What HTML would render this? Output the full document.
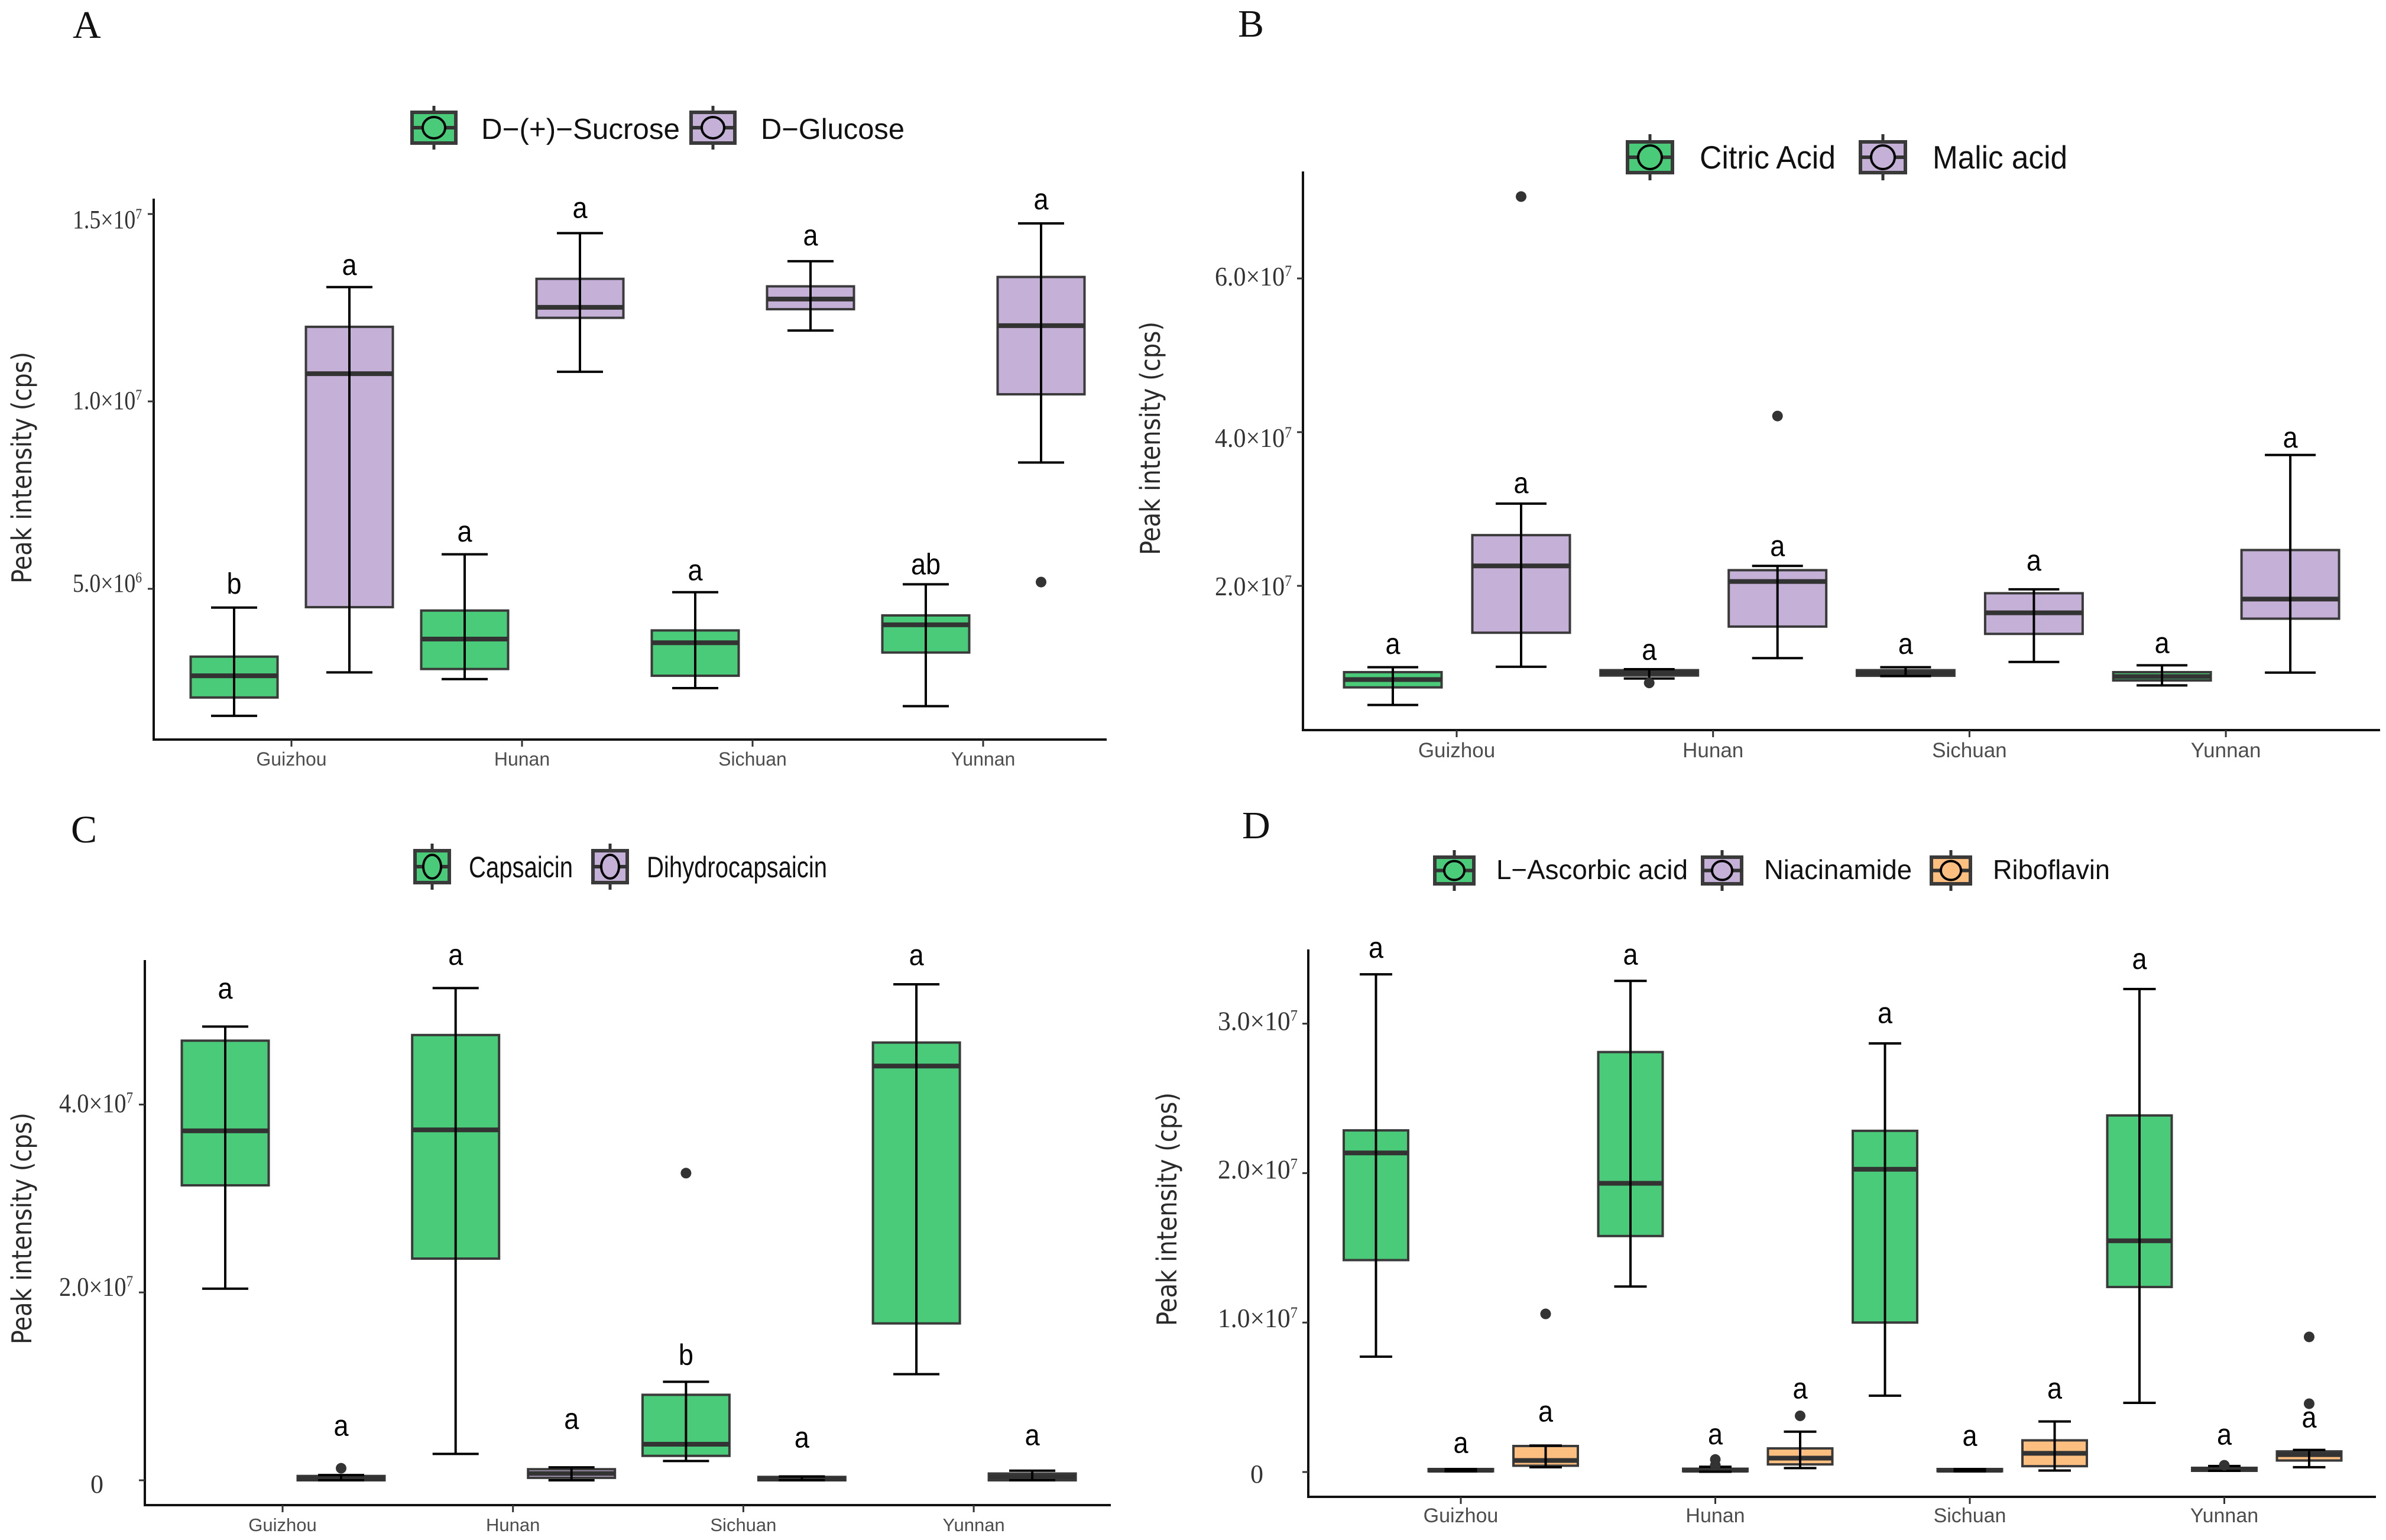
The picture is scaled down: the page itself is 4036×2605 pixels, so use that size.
<!DOCTYPE html>
<html lang="en">
<head>
<meta charset="utf-8">
<title>Peak intensity box plots</title>
<style>
html,body{margin:0;padding:0;background:#fff;}
svg{display:block;}
.panel-letter{font-family:"Liberation Serif",serif;font-size:66px;fill:#111;}
.legend-text{font-family:"Liberation Sans",sans-serif;fill:#111;}
.y-title{font-family:"DejaVu Sans",sans-serif;font-size:46px;fill:#2a2a2a;}
</style>
</head>
<body>
<svg id="figure" xmlns="http://www.w3.org/2000/svg" width="4036" height="2605" viewBox="0 0 4036 2605">
<rect x="0" y="0" width="4036" height="2605" fill="#ffffff"/>
<text class="panel-letter" x="123" y="64">A</text>
<text class="panel-letter" x="2094" y="62">B</text>
<text class="panel-letter" x="120" y="1425">C</text>
<text class="panel-letter" x="2101" y="1418">D</text>

<text class="y-title" transform="translate(53,987) rotate(-90)" textLength="392" lengthAdjust="spacingAndGlyphs">Peak intensity (cps)</text>
<text class="y-title" transform="translate(1962,939) rotate(-90)" textLength="395" lengthAdjust="spacingAndGlyphs">Peak intensity (cps)</text>
<text class="y-title" transform="translate(53,2274) rotate(-90)" textLength="392" lengthAdjust="spacingAndGlyphs">Peak intensity (cps)</text>
<text class="y-title" transform="translate(1990,2243) rotate(-90)" textLength="395" lengthAdjust="spacingAndGlyphs">Peak intensity (cps)</text>

<text class="legend-text" x="814" y="235" font-size="49" textLength="336" lengthAdjust="spacingAndGlyphs">D−(+)−Sucrose</text>
<text class="legend-text" x="1287" y="235" font-size="49" textLength="243" lengthAdjust="spacingAndGlyphs">D−Glucose</text>
<text class="legend-text" x="2875" y="285" font-size="55" textLength="230" lengthAdjust="spacingAndGlyphs">Citric Acid</text>
<text class="legend-text" x="3269" y="285" font-size="55" textLength="228" lengthAdjust="spacingAndGlyphs">Malic acid</text>
<text class="legend-text" x="793" y="1484" font-size="50" textLength="176" lengthAdjust="spacingAndGlyphs">Capsaicin</text>
<text class="legend-text" x="1094" y="1484" font-size="50" textLength="305" lengthAdjust="spacingAndGlyphs">Dihydrocapsaicin</text>
<text class="legend-text" x="2531" y="1487" font-size="46" textLength="324" lengthAdjust="spacingAndGlyphs">L−Ascorbic acid</text>
<text class="legend-text" x="2984" y="1487" font-size="46" textLength="250" lengthAdjust="spacingAndGlyphs">Niacinamide</text>
<text class="legend-text" x="3371" y="1487" font-size="46" textLength="198" lengthAdjust="spacingAndGlyphs">Riboflavin</text>
</svg>

<script>
// All intensity values are in units of 1e6 cps.
var categories = ['Guizhou', 'Hunan', 'Sichuan', 'Yunnan'];

// Panel A
var aTickValues = [5, 10, 15];
var aTickLabels = ['5.0×10', '1.0×10', '1.5×10'];
var aTickExponents = ['6', '7', '7'];
var sucroseLow = [1.61, 2.59, 2.35, 1.87];
var sucroseQ1 = [2.10, 2.86, 2.68, 3.30];
var sucroseMedian = [2.68, 3.66, 3.56, 4.04];
var sucroseQ3 = [3.19, 4.42, 3.89, 4.29];
var sucroseHigh = [4.50, 5.92, 4.91, 5.12];
var sucroseOutliers = [[], [], [], []];
var sucroseLetters = ['b', 'a', 'a', 'ab'];
var sucroseLetterLevels = [5.07, 6.47, 5.43, 5.59];
var glucoseLow = [2.77, 10.79, 11.89, 8.37];
var glucoseQ1 = [4.51, 12.23, 12.46, 10.19];
var glucoseMedian = [10.74, 12.51, 12.73, 12.02];
var glucoseQ3 = [11.99, 13.27, 13.07, 13.32];
var glucoseHigh = [13.05, 14.49, 13.74, 14.75];
var glucoseOutliers = [[], [], [], [5.18]];
var glucoseLetters = ['a', 'a', 'a', 'a'];
var glucoseLetterLevels = [13.58, 15.10, 14.37, 15.33];

// Panel B
var bTickValues = [20, 40, 60];
var bTickLabels = ['2.0×10', '4.0×10', '6.0×10'];
var bTickExponents = ['7', '7', '7'];
var citricLow = [4.50, 7.94, 8.26, 7.05];
var citricQ1 = [6.79, 8.33, 8.30, 7.69];
var citricMedian = [7.81, 8.71, 8.64, 8.20];
var citricQ3 = [8.77, 9.03, 9.03, 8.77];
var citricHigh = [9.41, 9.15, 9.41, 9.66];
var citricOutliers = [[], [7.37], [], []];
var citricLetters = ['a', 'a', 'a', 'a'];
var citricLetterLevels = [12.15, 11.39, 12.15, 12.28];
var malicLow = [9.47, 10.6, 10.1, 8.71];
var malicQ1 = [13.9, 14.7, 13.75, 15.73];
var malicMedian = [22.6, 20.57, 16.49, 18.28];
var malicQ3 = [26.6, 22.04, 19.04, 24.66];
var malicHigh = [30.7, 22.6, 19.55, 37.03];
var malicOutliers = [[70.65], [42.1], [], []];
var malicLetters = ['a', 'a', 'a', 'a'];
var malicLetterLevels = [33.08, 24.9, 23.0, 39.0];

// Panel C
var cTickValues = [0, 20, 40];
var cTickLabels = ['0', '2.0×10', '4.0×10'];
var cTickExponents = ['', '7', '7'];
var capsaicinLow = [20.4, 2.81, 2.05, 11.3];
var capsaicinQ1 = [31.4, 23.6, 2.6, 16.7];
var capsaicinMedian = [37.2, 37.3, 3.84, 44.1];
var capsaicinQ3 = [46.8, 47.4, 9.1, 46.6];
var capsaicinHigh = [48.3, 52.4, 10.49, 52.8];
var capsaicinOutliers = [[], [], [32.7], []];
var capsaicinLetters = ['a', 'a', 'b', 'a'];
var capsaicinLetterLevels = [52.1, 55.7, 13.1, 55.65];
var dihydroLow = [0.0, 0.0, 0.0, 0.0];
var dihydroQ1 = [0.0, 0.26, 0.0, 0.0];
var dihydroMedian = [0.2, 0.72, 0.15, 0.36];
var dihydroQ3 = [0.46, 1.18, 0.36, 0.72];
var dihydroHigh = [0.56, 1.38, 0.41, 1.02];
var dihydroOutliers = [[1.28], [], [], []];
var dihydroLetters = ['a', 'a', 'a', 'a'];
var dihydroLetterLevels = [5.58, 6.29, 4.3, 4.55];

// Panel D
var dTickValues = [0, 10, 20, 30];
var dTickLabels = ['0', '1.0×10', '2.0×10', '3.0×10'];
var dTickExponents = ['', '7', '7', '7'];
var ascorbicLow = [7.72, 12.41, 5.11, 4.63];
var ascorbicQ1 = [14.18, 15.79, 10.0, 12.38];
var ascorbicMedian = [21.35, 19.32, 20.26, 15.47];
var ascorbicQ3 = [22.86, 28.1, 22.83, 23.86];
var ascorbicHigh = [33.3, 32.86, 28.68, 32.32];
var ascorbicOutliers = [[], [], [], []];
var ascorbicLetters = ['a', 'a', 'a', 'a'];
var ascorbicLetterLevels = [34.92, 34.47, 30.55, 34.18];
var niacinLow = [0.05, 0.02, 0.05, 0.08];
var niacinQ1 = [0.05, 0.05, 0.05, 0.08];
var niacinMedian = [0.12, 0.12, 0.12, 0.18];
var niacinQ3 = [0.2, 0.22, 0.2, 0.28];
var niacinHigh = [0.2, 0.35, 0.2, 0.4];
var niacinOutliers = [[], [0.84, 0.45], [], [0.45]];
var niacinLetters = ['a', 'a', 'a', 'a'];
var niacinLetterLevels = [1.8, 2.38, 2.28, 2.35];
var riboflavinLow = [0.32, 0.26, 0.1, 0.32];
var riboflavinQ1 = [0.42, 0.51, 0.39, 0.77];
var riboflavinMedian = [0.77, 0.93, 1.25, 1.16];
var riboflavinQ3 = [1.74, 1.58, 2.12, 1.38];
var riboflavinHigh = [1.77, 2.7, 3.38, 1.48];
var riboflavinOutliers = [[10.58], [3.76], [], [9.04, 4.57]];
var riboflavinLetters = ['a', 'a', 'a', 'a'];
var riboflavinLetterLevels = [3.89, 5.43, 5.43, 3.5];

var SVGNS = 'http://www.w3.org/2000/svg';
var figure = document.getElementById('figure');
var GREEN = '#49CB7A', PURPLE = '#C5B0D8', ORANGE = '#FDBF80';

function make(tag, parent, attrs) {
  var node = document.createElementNS(SVGNS, tag);
  for (var k in attrs) node.setAttribute(k, attrs[k]);
  parent.appendChild(node);
  return node;
}

function drawPanel(p) {
  var yScale = function (v) { return p.yZero - v * p.yPerUnit; };
  var xScale = function (i, offset) { return p.x0 + i * p.step + offset; };

  var group = make('g', figure, {});
  
  

  p.series.forEach(function (s) {
    var sg = make('g', group, {});
    
    
    categories.forEach(function (cat, i) {
      var cx = xScale(i, s.offset);
      var bg = make('g', sg, {});
      
      
      make('rect', bg, {
        x: cx - p.boxW / 2, y: yScale(s.q3[i]), width: p.boxW,
        height: Math.max(0.5, yScale(s.q1[i]) - yScale(s.q3[i])),
        fill: s.color, stroke: '#3a3a3a', 'stroke-width': 4
      });
      make('line', bg, {
        x1: cx - p.boxW / 2, x2: cx + p.boxW / 2, y1: yScale(s.median[i]), y2: yScale(s.median[i]),
        stroke: '#333333', 'stroke-width': 8
      });
      make('line', bg, {
        x1: cx, x2: cx, y1: yScale(s.high[i]), y2: yScale(s.low[i]),
        stroke: '#000000', 'stroke-width': 4
      });
      make('line', bg, {
        x1: cx - p.capW / 2, x2: cx + p.capW / 2, y1: yScale(s.high[i]), y2: yScale(s.high[i]),
        stroke: '#000000', 'stroke-width': 4
      });
      make('line', bg, {
        x1: cx - p.capW / 2, x2: cx + p.capW / 2, y1: yScale(s.low[i]), y2: yScale(s.low[i]),
        stroke: '#000000', 'stroke-width': 4
      });
      s.outliers[i].forEach(function (v) {
        var dot = make('circle', sg, { cx: cx, cy: yScale(v), r: 9, fill: '#333333' });
        
        
      });
      var letter = make('text', sg, {
        transform: 'translate(' + cx + ',' + (yScale(s.letterLevels[i]) + 13) + ') scale(0.9,1)', 'text-anchor': 'middle',
        'font-family': '"Liberation Sans", sans-serif', 'font-size': 50, fill: '#000000'
      });
      letter.textContent = s.letters[i];
      
      
    });
  });

  var yAxis = make('line', group, { x1: p.axisX, x2: p.axisX, y1: p.axisTop, y2: p.axisY + 2, stroke: '#111111', 'stroke-width': 4 });
  
  
  var xAxis = make('line', group, { x1: p.axisX - 2, x2: p.axisRight, y1: p.axisY, y2: p.axisY, stroke: '#111111', 'stroke-width': 4 });
  
  

  categories.forEach(function (cat, i) {
    var tx = xScale(i, 0);
    var tick = make('line', group, { x1: tx, x2: tx, y1: p.axisY, y2: p.axisY + 12, stroke: '#333333', 'stroke-width': 3 });
    
    
    var lab = make('text', group, {
      x: tx, y: p.catBaseline, 'text-anchor': 'middle',
      'font-family': '"Liberation Sans", sans-serif', 'font-size': p.catFont, fill: '#4d4d4d'
    });
    lab.textContent = cat;
    
    
  });

  p.tickValues.forEach(function (v, i) {
    var ty = yScale(v);
    var tick = make('line', group, { x1: p.axisX - 10, x2: p.axisX, y1: ty, y2: ty, stroke: '#333333', 'stroke-width': 3 });
    
    
    var isZero = p.tickExponents[i] === '';
    var lab = make('text', group, {
      x: isZero ? p.zeroX : p.labelRight - p.labelW, y: ty + p.labelDy[i],
      'font-family': '"Liberation Serif", serif', 'font-size': isZero ? 44 : p.labelFont, fill: '#333333'
    });
    if (!isZero) {
      lab.setAttribute('textLength', p.labelW);
      lab.setAttribute('lengthAdjust', 'spacingAndGlyphs');
    }
    lab.appendChild(document.createTextNode(p.tickLabels[i]));
    if (!isZero) {
      var sup = make('tspan', lab, { dy: -16, 'font-size': Math.round(p.labelFont * 0.56) });
      sup.textContent = p.tickExponents[i];
    }
    
    
  });

  p.keys.forEach(function (k) {
    var g = make('g', group, {});
    
    
    var cx = k.x + k.w / 2, cy = k.y + k.h / 2;
    make('line', g, { x1: cx, x2: cx, y1: k.y - k.ext, y2: k.y + k.h + k.ext, stroke: '#333333', 'stroke-width': 5 });
    make('rect', g, { x: k.x, y: k.y, width: k.w, height: k.h, fill: k.color, stroke: '#3a3a3a', 'stroke-width': 6 });
    make('line', g, { x1: k.x, x2: k.x + k.w, y1: cy, y2: cy, stroke: '#333333', 'stroke-width': 6 });
    make('ellipse', g, { cx: cx, cy: cy, rx: k.rx, ry: k.ry, fill: k.color, stroke: '#000000', 'stroke-width': 4 });
  });
}

drawPanel({
  id: 'a', x0: 493, step: 390, yZero: 1313, yPerUnit: 63.4,
  axisX: 260, axisTop: 336, axisY: 1251, axisRight: 1872, boxW: 147, capW: 78,
  catBaseline: 1295, catFont: 32, labelRight: 240, labelW: 117, labelFont: 44, zeroX: 0,
  labelDy: [5, 13, 24],
  tickValues: aTickValues, tickLabels: aTickLabels, tickExponents: aTickExponents,
  keys: [
    { name: 'sucrose', x: 697, y: 190, w: 74, h: 52, ext: 11, rx: 19, ry: 18, color: GREEN },
    { name: 'glucose', x: 1169, y: 190, w: 74, h: 52, ext: 11, rx: 19, ry: 18, color: PURPLE }
  ],
  series: [
    { name: 'sucrose', color: GREEN, offset: -97, low: sucroseLow, q1: sucroseQ1, median: sucroseMedian, q3: sucroseQ3, high: sucroseHigh, outliers: sucroseOutliers, letters: sucroseLetters, letterLevels: sucroseLetterLevels },
    { name: 'glucose', color: PURPLE, offset: 98, low: glucoseLow, q1: glucoseQ1, median: glucoseMedian, q3: glucoseQ3, high: glucoseHigh, outliers: glucoseOutliers, letters: glucoseLetters, letterLevels: glucoseLetterLevels }
  ]
});

drawPanel({
  id: 'b', x0: 2464, step: 433.7, yZero: 1251, yPerUnit: 13,
  axisX: 2204, axisTop: 290, axisY: 1235, axisRight: 4026, boxW: 165, capW: 86,
  catBaseline: 1281, catFont: 35, labelRight: 2185, labelW: 130, labelFont: 46, zeroX: 0,
  labelDy: [16, 25, 12],
  tickValues: bTickValues, tickLabels: bTickLabels, tickExponents: bTickExponents,
  keys: [
    { name: 'citric-acid', x: 2753, y: 240, w: 76, h: 52, ext: 13, rx: 20, ry: 20, color: GREEN },
    { name: 'malic-acid', x: 3147, y: 240, w: 76, h: 52, ext: 13, rx: 20, ry: 20, color: PURPLE }
  ],
  series: [
    { name: 'citric-acid', color: GREEN, offset: -108, low: citricLow, q1: citricQ1, median: citricMedian, q3: citricQ3, high: citricHigh, outliers: citricOutliers, letters: citricLetters, letterLevels: citricLetterLevels },
    { name: 'malic-acid', color: PURPLE, offset: 109, low: malicLow, q1: malicQ1, median: malicMedian, q3: malicQ3, high: malicHigh, outliers: malicOutliers, letters: malicLetters, letterLevels: malicLetterLevels }
  ]
});

drawPanel({
  id: 'c', x0: 478, step: 389.7, yZero: 2504, yPerUnit: 15.89,
  axisX: 245, axisTop: 1624, axisY: 2546, axisRight: 1879, boxW: 147, capW: 78,
  catBaseline: 2590, catFont: 31, labelRight: 225, labelW: 125, labelFont: 46, zeroX: 153,
  labelDy: [21, 6, 13],
  tickValues: cTickValues, tickLabels: cTickLabels, tickExponents: cTickExponents,
  keys: [
    { name: 'capsaicin', x: 702, y: 1439, w: 58, h: 54, ext: 12, rx: 15, ry: 20, color: GREEN },
    { name: 'dihydrocapsaicin', x: 1003, y: 1439, w: 58, h: 54, ext: 12, rx: 15, ry: 20, color: PURPLE }
  ],
  series: [
    { name: 'capsaicin', color: GREEN, offset: -97, low: capsaicinLow, q1: capsaicinQ1, median: capsaicinMedian, q3: capsaicinQ3, high: capsaicinHigh, outliers: capsaicinOutliers, letters: capsaicinLetters, letterLevels: capsaicinLetterLevels },
    { name: 'dihydrocapsaicin', color: PURPLE, offset: 99, low: dihydroLow, q1: dihydroQ1, median: dihydroMedian, q3: dihydroQ3, high: dihydroHigh, outliers: dihydroOutliers, letters: dihydroLetters, letterLevels: dihydroLetterLevels }
  ]
});

drawPanel({
  id: 'd', x0: 2471, step: 430.5, yZero: 2490, yPerUnit: 25.28,
  axisX: 2213, axisTop: 1606, axisY: 2532, axisRight: 4019, boxW: 109, capW: 55,
  catBaseline: 2575, catFont: 34, labelRight: 2195, labelW: 135, labelFont: 46, zeroX: 2115,
  labelDy: [18, 8, 9, 11],
  tickValues: dTickValues, tickLabels: dTickLabels, tickExponents: dTickExponents,
  keys: [
    { name: 'ascorbic-acid', x: 2427, y: 1450, w: 66, h: 45, ext: 12, rx: 17, ry: 16, color: GREEN },
    { name: 'niacinamide', x: 2880, y: 1450, w: 66, h: 45, ext: 12, rx: 17, ry: 16, color: PURPLE },
    { name: 'riboflavin', x: 3267, y: 1450, w: 66, h: 45, ext: 12, rx: 17, ry: 16, color: ORANGE }
  ],
  series: [
    { name: 'ascorbic-acid', color: GREEN, offset: -143.5, low: ascorbicLow, q1: ascorbicQ1, median: ascorbicMedian, q3: ascorbicQ3, high: ascorbicHigh, outliers: ascorbicOutliers, letters: ascorbicLetters, letterLevels: ascorbicLetterLevels },
    { name: 'niacinamide', color: PURPLE, offset: 0, low: niacinLow, q1: niacinQ1, median: niacinMedian, q3: niacinQ3, high: niacinHigh, outliers: niacinOutliers, letters: niacinLetters, letterLevels: niacinLetterLevels },
    { name: 'riboflavin', color: ORANGE, offset: 143.5, low: riboflavinLow, q1: riboflavinQ1, median: riboflavinMedian, q3: riboflavinQ3, high: riboflavinHigh, outliers: riboflavinOutliers, letters: riboflavinLetters, letterLevels: riboflavinLetterLevels }
  ]
});
</script>
</body>
</html>
